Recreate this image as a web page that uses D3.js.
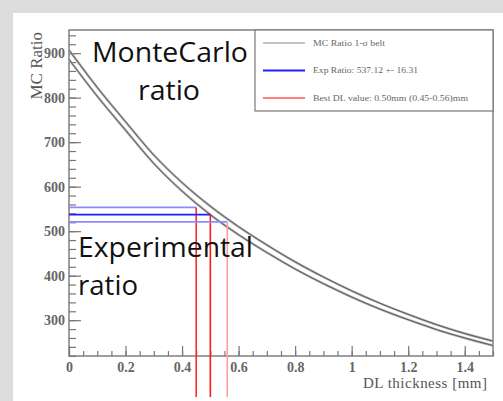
<!DOCTYPE html>
<html>
<head>
<meta charset="utf-8">
<script src="https://cdn.jsdelivr.net/npm/d3@7"></script>
<style>
  html, body { margin: 0; padding: 0; background: #dcdcdc; }
  svg { display: block; }
</style>
</head>
<body>
<svg width="503" height="401"></svg>
<script>
// DL thickness [mm] sample points and the two edges of the MC 1-sigma belt
const thickness = [0, 0.1, 0.2, 0.3, 0.4, 0.5, 0.6, 0.7, 0.8, 0.9, 1.0, 1.1, 1.2, 1.3, 1.4, 1.5];
const mcUpper = [907, 823, 746, 671, 609, 556, 510, 469, 431, 397, 366, 338, 313, 290, 270, 253];
const mcLower = [886, 803, 727, 652, 590, 537, 492, 452, 415, 382, 352, 325, 301, 279, 260, 243];

// experimental ratio (+sigma, central, -sigma) and matching DL values
const expRatios = [553.43, 537.12, 520.81];
const bestDL = [0.45, 0.50, 0.56];

const xTicks = [0, 0.2, 0.4, 0.6, 0.8, 1, 1.2, 1.4];
const yTicks = [300, 400, 500, 600, 700, 800, 900];
const legendLabels = ["MC Ratio 1-\u03c3 belt", "Exp Ratio: 537.12 +- 16.31", "Best DL value:  0.50mm (0.45-0.56)mm"];

let svg = d3.select('svg');
svg.append('rect')
   .attr('x', 13).attr('y', 13)
   .attr('width', 490).attr('height', 388)
   .attr('fill', '#fff');

let x = d3.scaleLinear().domain([0, 1.5]).range([69, 493]);
let y = d3.scaleLinear().domain([219.5, 952]).range([356, 30]);

// minor ticks
let xMinor = d3.range(0, 1.5001, 0.05);
let yMinor = d3.range(220, 952, 20);

svg.append('g')
   .attr('transform', 'translate(0,356)')
   .call(d3.axisBottom(x).tickValues(xMinor).tickSize(-5).tickSizeOuter(0).tickFormat(''))
   .call(g => g.select('.domain').remove());
svg.append('g')
   .attr('transform', 'translate(69,0)')
   .call(d3.axisLeft(y).tickValues(yMinor).tickSize(-7).tickSizeOuter(0).tickFormat(''))
   .call(g => g.select('.domain').remove());

// major ticks + labels
let xAxis = svg.append('g')
   .attr('transform', 'translate(0,356)')
   .call(d3.axisBottom(x).tickValues(xTicks).tickSize(-10).tickSizeOuter(0).tickPadding(6)
         .tickFormat(d => d === 0 ? '0' : (d === 1 ? '1' : d3.format('.1f')(d))));
let yAxis = svg.append('g')
   .attr('transform', 'translate(69,0)')
   .call(d3.axisLeft(y).tickValues(yTicks).tickSize(-12).tickSizeOuter(0).tickPadding(4));

[xAxis, yAxis].forEach(a => {
  a.select('.domain').remove();
  a.selectAll('text')
   .attr('font-family', 'Liberation Serif, serif')
   .attr('font-size', 14)
   .attr('font-weight', 'bold')
   .attr('fill', '#666');
});
svg.selectAll('.tick line').attr('stroke', '#777').attr('stroke-width', 1.2);

// frame
svg.append('rect')
   .attr('x', 69).attr('y', 30)
   .attr('width', 424).attr('height', 326)
   .attr('fill', 'none')
   .attr('stroke', '#777')
   .attr('stroke-width', 1.4);

// axis titles
svg.append('text')
   .attr('transform', 'translate(42,32) rotate(-90)')
   .attr('text-anchor', 'end')
   .attr('font-family', 'Liberation Serif, serif')
   .attr('font-size', 17)
   .attr('fill', '#555')
   .text('MC Ratio');
svg.append('text')
   .attr('x', 487).attr('y', 388)
   .attr('text-anchor', 'end')
   .attr('font-family', 'Liberation Serif, serif')
   .attr('font-size', 15)
   .attr('textLength', 124)
   .attr('fill', '#555')
   .text('DL thickness [mm]');

// MC belt curves
let line = d3.line().x((d, i) => x(thickness[i])).y(d => y(d)).curve(d3.curveMonotoneX);
[mcUpper, mcLower].forEach(s => {
  svg.append('path').attr('d', line(s)).attr('fill', 'none')
     .attr('stroke', '#b0b0b0').attr('stroke-width', 2.4);
  svg.append('path').attr('d', line(s)).attr('fill', 'none')
     .attr('stroke', '#333').attr('stroke-width', 0.7);
});

// experimental ratio lines and best DL lines
let blueCols = ['#8c8cff', '#1f1fff', '#8c8cff'];
let redCols = ['#ff2a2a', '#ff1a1a', '#ff9c9c'];
expRatios.forEach((r, i) => {
  svg.append('line')
     .attr('x1', x(0)).attr('x2', x(bestDL[i]))
     .attr('y1', y(r)).attr('y2', y(r))
     .attr('stroke', blueCols[i]).attr('stroke-width', 1.6);
  svg.append('line')
     .attr('x1', x(bestDL[i])).attr('x2', x(bestDL[i]))
     .attr('y1', y(r)).attr('y2', 397)
     .attr('stroke', redCols[i]).attr('stroke-width', 1.6);
});

// legend
let lg = svg.append('g');
lg.append('rect')
  .attr('x', 255).attr('y', 30)
  .attr('width', 238).attr('height', 81)
  .attr('fill', '#fff')
  .attr('stroke', '#777').attr('stroke-width', 1.2);
let legendCols = ['#888', '#2020ff', '#ff8080'];
let legendW = [1, 2.2, 2];
let legendLen = [72, 105, 155];
legendLabels.forEach((t, i) => {
  let ly = 43 + i * 27.5;
  lg.append('line')
    .attr('x1', 263).attr('x2', 305)
    .attr('y1', ly).attr('y2', ly)
    .attr('stroke', legendCols[i]).attr('stroke-width', legendW[i]);
  lg.append('text')
    .attr('x', 313).attr('y', ly + 2.5)
    .attr('font-family', 'Liberation Serif, serif')
    .attr('font-size', 8)
    .attr('textLength', legendLen[i])
    .attr('lengthAdjust', 'spacingAndGlyphs')
    .attr('fill', '#666')
    .text(t);
});

// big annotations
let big = [
  {t: 'MonteCarlo', x: 92, y: 62, w: 156},
  {t: 'ratio', x: 138, y: 100, w: 62},
  {t: 'Experimental', x: 78, y: 257, w: 175},
  {t: 'ratio', x: 78, y: 295, w: 60}
];
big.forEach(b => {
  svg.append('text')
     .attr('x', b.x).attr('y', b.y)
     .attr('font-family', 'Open Sans, sans-serif')
     .attr('font-size', 27)
     .attr('textLength', b.w)
     .attr('lengthAdjust', 'spacingAndGlyphs')
     .attr('fill', '#111')
     .text(b.t);
});
</script>
</body>
</html>
